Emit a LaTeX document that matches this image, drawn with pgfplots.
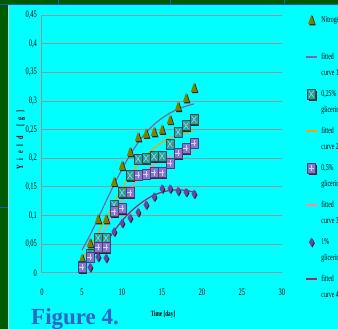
\documentclass[border=0pt]{standalone}
\usepackage{pgfplots}
\pgfplotsset{compat=1.18}
\usepackage{fontspec}
\setmainfont{Liberation Serif}[FakeStretch=0.65]
\newfontfamily\figfont{Liberation Serif}

\definecolor{bgcyan}{RGB}{0,255,255}
\definecolor{dkgreen}{RGB}{0,90,0}
\definecolor{edgeblue}{RGB}{40,80,200}
\definecolor{figblue}{RGB}{50,100,200}
\definecolor{gridc}{RGB}{150,150,155}
\definecolor{trifill}{RGB}{128,128,0}
\definecolor{sqteal}{RGB}{51,153,153}
\definecolor{sqtealdk}{RGB}{0,90,90}
\definecolor{sqtealx}{RGB}{150,220,220}
\definecolor{sqlav}{RGB}{136,120,204}
\definecolor{sqlavdk}{RGB}{70,60,130}
\definecolor{sqlavx}{RGB}{215,210,245}
\definecolor{diam}{RGB}{100,70,170}
\definecolor{cA}{RGB}{128,100,162}
\definecolor{cB}{RGB}{255,160,0}
\definecolor{cC}{RGB}{255,140,140}
\definecolor{cD}{RGB}{160,40,100}

\pgfdeclareplotmark{trim}{%
  \pgfsetfillcolor{black!85}%
  \pgfpathmoveto{\pgfqpoint{1.2pt}{4.5pt}}%
  \pgfpathlineto{\pgfqpoint{4.4pt}{-5.3pt}}%
  \pgfpathlineto{\pgfqpoint{-2pt}{-5.3pt}}%
  \pgfpathclose\pgfusepathqfill
  \pgfsetfillcolor{trifill}%
  \pgfpathmoveto{\pgfqpoint{0pt}{5.5pt}}%
  \pgfpathlineto{\pgfqpoint{3.2pt}{-4pt}}%
  \pgfpathlineto{\pgfqpoint{-3.2pt}{-4pt}}%
  \pgfpathclose\pgfusepathqfill
}
\pgfdeclareplotmark{sqx}{%
  \pgfsetfillcolor{black!85}%
  \pgfpathrectangle{\pgfqpoint{-2.5pt}{-6.5pt}}{\pgfqpoint{8pt}{10pt}}\pgfusepathqfill
  \pgfsetfillcolor{sqteal}\pgfsetstrokecolor{sqtealdk}\pgfsetlinewidth{0.5pt}%
  \pgfpathrectangle{\pgfqpoint{-4pt}{-5pt}}{\pgfqpoint{8pt}{10pt}}\pgfusepathqfillstroke
  \pgfsetstrokecolor{sqtealx}\pgfsetlinewidth{0.6pt}%
  \pgfpathmoveto{\pgfqpoint{-2.5pt}{-3.5pt}}\pgfpathlineto{\pgfqpoint{2.5pt}{3.5pt}}%
  \pgfpathmoveto{\pgfqpoint{-2.5pt}{3.5pt}}\pgfpathlineto{\pgfqpoint{2.5pt}{-3.5pt}}%
  \pgfusepathqstroke
}
\pgfdeclareplotmark{sqp}{%
  \pgfsetfillcolor{black!85}%
  \pgfpathrectangle{\pgfqpoint{-2.5pt}{-6.5pt}}{\pgfqpoint{8pt}{10pt}}\pgfusepathqfill
  \pgfsetfillcolor{sqlav}\pgfsetstrokecolor{sqlavdk}\pgfsetlinewidth{0.5pt}%
  \pgfpathrectangle{\pgfqpoint{-4pt}{-5pt}}{\pgfqpoint{8pt}{10pt}}\pgfusepathqfillstroke
  \pgfsetstrokecolor{sqlavx}\pgfsetlinewidth{0.6pt}%
  \pgfpathmoveto{\pgfqpoint{0pt}{-3pt}}\pgfpathlineto{\pgfqpoint{0pt}{3pt}}%
  \pgfpathmoveto{\pgfqpoint{-2.5pt}{0pt}}\pgfpathlineto{\pgfqpoint{2.5pt}{0pt}}%
  \pgfusepathqstroke
}
\pgfdeclareplotmark{dia}{%
  \pgfsetfillcolor{black!85}%
  \pgfpathmoveto{\pgfqpoint{1pt}{3.5pt}}\pgfpathlineto{\pgfqpoint{3.5pt}{-1pt}}%
  \pgfpathlineto{\pgfqpoint{1pt}{-5.5pt}}\pgfpathlineto{\pgfqpoint{-1.5pt}{-1pt}}%
  \pgfpathclose\pgfusepathqfill
  \pgfsetfillcolor{diam}%
  \pgfpathmoveto{\pgfqpoint{0pt}{4.5pt}}\pgfpathlineto{\pgfqpoint{2.5pt}{0pt}}%
  \pgfpathlineto{\pgfqpoint{0pt}{-4.5pt}}\pgfpathlineto{\pgfqpoint{-2.5pt}{0pt}}%
  \pgfpathclose\pgfusepathqfill
}

\newcommand\legtxt[1]{\parbox[t]{40pt}{\fontsize{9}{16}\selectfont #1}}

\pgfplotsset{
  lineleg/.style={legend image code/.code={\draw[##1] (0pt,0pt) -- (11pt,0pt);}},
  markleg/.style={legend image code/.code={\draw[mark repeat=2,mark phase=2,##1] plot coordinates {(0pt,0pt) (5.5pt,0pt) (11pt,0pt)};}},
}

\begin{document}
\begin{tikzpicture}
\fill[bgcyan] (0pt,0pt) rectangle (338pt,329pt);
\fill[dkgreen] (0pt,0pt) rectangle (8pt,329pt);
\fill[dkgreen] (0pt,324pt) rectangle (338pt,329pt);
\draw[edgeblue, line width=1pt] (0pt,324.3pt) -- (338pt,324.3pt);
\foreach \xx in {58,170,284} \draw[edgeblue, line width=1pt] (\xx pt,324pt) -- (\xx pt,329pt);
\draw[edgeblue, line width=1pt] (0pt,121pt) -- (8pt,121pt);
\draw[white!60!gray, line width=0.6pt] (8.5pt,0pt) -- (8.5pt,324pt);

\begin{axis}[
  at={(42pt,56pt)}, anchor=south west,
  scale only axis, width=240pt, height=258pt,
  xmin=0, xmax=30, ymin=0, ymax=0.45,
  axis lines*=left,
  axis line style={gridc, line width=1pt, -},
  major tick length=0pt,
  xtick={0,5,10,15,20,25,30},
  ytick={0,0.05,0.1,0.15,0.2,0.25,0.3,0.35,0.4,0.45},
  yticklabels={0,{0,05},{0,1},{0,15},{0,2},{0,25},{0,3},{0,35},{0,4},{0,45}},
  ymajorgrids, grid style={gridc, line width=1pt},
  tick label style={font=\fontsize{10}{12}\selectfont, black},
  /pgf/number format/assume math mode=true,
  xticklabel style={yshift=-12pt},
  yticklabel style={xshift=-1.5pt},
  xlabel={\bfseries Time [day]},
  xlabel style={at={(axis description cs:0.504,-0.163)}, anchor=center, font=\fontsize{8}{10}\selectfont},
  ylabel={\bfseries Y\enspace i\enspace e\enspace l\enspace d\quad [\enspace g\enspace ]},
  ylabel style={at={(axis description cs:-0.0875,0.516)}, anchor=center, font=\fontsize{9.5}{10}\selectfont},
  legend style={at={(axis description cs:1.096,1.004)}, anchor=north west, draw=none, fill=none,
    inner sep=0pt, row sep={37pt,between origins}, column sep=2pt,
    cells={anchor=west}, font=\fontsize{9}{16}\selectfont},
  clip=false,
]
% Nitrogen
\addplot[only marks, mark=trim, markleg] coordinates {
(5,0.025) (6,0.052) (7,0.094) (8,0.094) (9,0.159) (10,0.187) (11,0.211) (12,0.237)
(13,0.243) (14,0.246) (15,0.25) (16,0.267) (17,0.29) (18,0.305) (19,0.323)};
\addlegendentry{\legtxt{Nitrogén}}
\addplot[cA, line width=1.2pt, smooth, lineleg] coordinates {
(5,0.04) (6,0.066) (7,0.095) (8,0.125) (9,0.154) (10,0.181) (11,0.206) (12,0.227)
(13,0.245) (14,0.259) (15,0.27) (16,0.279) (17,0.286) (18,0.291) (19,0.295)};
\addlegendentry{\legtxt{fitted\\curve 1}}
% 0.25% glicerin
\addplot[only marks, mark=sqx, markleg] coordinates {
(5,0.012) (6,0.032) (7,0.061) (8,0.061) (9,0.119) (10,0.140) (11,0.170) (12,0.199)
(13,0.200) (14,0.203) (15,0.204) (16,0.225) (17,0.246) (18,0.257) (19,0.268)};
\addlegendentry{\legtxt{0,25\%\\glicerin}}
\addplot[cB, line width=1.2pt, smooth, lineleg] coordinates {
(5,0.023) (6,0.045) (7,0.07) (8,0.096) (9,0.123) (10,0.148) (11,0.17) (12,0.189)
(13,0.205) (14,0.218) (15,0.228) (16,0.236) (17,0.241) (18,0.245) (19,0.247)};
\addlegendentry{\legtxt{fitted\\curve 2}}
% 0.5% glicerin
\addplot[only marks, mark=sqp, markleg] coordinates {
(5,0.01) (6,0.028) (7,0.045) (8,0.045) (9,0.107) (10,0.113) (11,0.14) (12,0.171)
(13,0.173) (14,0.175) (15,0.175) (16,0.192) (17,0.209) (18,0.218) (19,0.227)};
\addlegendentry{\legtxt{0,5\%\\glicerin}}
\addplot[cC, line width=1.2pt, smooth, lineleg] coordinates {
(5.5,0.015) (6,0.028) (7,0.054) (8,0.079) (9,0.104) (10,0.127) (11,0.147) (12,0.164)
(13,0.178) (14,0.189) (15,0.197) (16,0.203) (17,0.207) (18,0.21) (19,0.212)};
\addlegendentry{\legtxt{fitted\\curve 3}}
% 1% glicerin
\addplot[only marks, mark=dia, markleg] coordinates {
(6,0.01) (7,0.028) (8,0.026) (9,0.072) (10,0.087) (11,0.096) (12,0.106)
(13,0.119) (14,0.133) (15,0.147) (16,0.147) (17,0.143) (18,0.141) (19,0.138)};
\addlegendentry{\legtxt{1\%\\glicerin}}
\addplot[cD, line width=1.2pt, smooth, lineleg] coordinates {
(7,0.028) (8,0.052) (9,0.073) (10,0.091) (11,0.106) (12,0.118) (13,0.128)
(14,0.136) (15,0.141) (16,0.144) (17,0.145) (18,0.144) (19,0.141)};
\addlegendentry{\legtxt{fitted\\curve 4}}
\end{axis}

\node[anchor=base west, inner sep=0pt, text=figblue] at (31pt,4pt)
  {\figfont\bfseries\fontsize{23}{23}\selectfont Figure 4.};

\pgfresetboundingbox
\path[use as bounding box] (0pt,0pt) rectangle (338pt,329pt);
\end{tikzpicture}
\end{document}
